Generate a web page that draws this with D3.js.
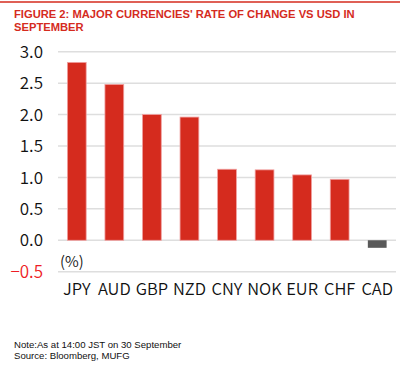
<!DOCTYPE html>
<html>
<head>
<meta charset="utf-8">
<script src="https://cdn.jsdelivr.net/npm/d3@7"></script>
<style>
  body { margin: 0; background: #fff; }
  svg { display: block; }
</style>
</head>
<body>
<div id="content"></div>
<script>
// Data
var currencies = ["JPY", "AUD", "GBP", "NZD", "CNY", "NOK", "EUR", "CHF", "CAD"];
var changes = [2.83, 2.48, 2.0, 1.96, 1.13, 1.12, 1.04, 0.97, -0.12];
var yTicks = [-0.5, 0, 0.5, 1.0, 1.5, 2.0, 2.5, 3.0];
var titleLines = ["FIGURE 2: MAJOR CURRENCIES' RATE OF CHANGE VS USD IN", "SEPTEMBER"];
var notes = ["Note:As at 14:00 JST on 30 September", "Source: Bloomberg, MUFG"];

var width = 406, height = 370;
var red = "#d52b1e";
var labelFont = "Noto Sans CJK JP, Noto Sans, sans-serif";

var svg = d3.select("#content").append("svg")
    .attr("width", width)
    .attr("height", height);

// top rule
svg.append("line")
    .attr("x1", 0).attr("x2", 400)
    .attr("y1", 2).attr("y2", 2)
    .attr("stroke", red)
    .attr("stroke-width", 1.5);

svg.append("g")
  .selectAll("text")
  .data(titleLines)
  .join("text")
    .attr("x", 14)
    .attr("y", (d, i) => 18 + i * 12.5)
    .attr("fill", red)
    .attr("font-family", "Liberation Sans, Arial, sans-serif")
    .attr("font-weight", "bold")
    .attr("font-size", 11.2)
    .text(d => d);

// Scales
var x = d3.scaleBand()
    .domain(currencies)
    .range([58, 396])
    .paddingInner(0.5)
    .paddingOuter(0.25);

var y = d3.scaleLinear()
    .domain([-0.5, 3.0])
    .range([271.7, 51.7]);

// grid
svg.append("g")
  .selectAll("line")
  .data(yTicks)
  .join("line")
    .attr("x1", 58).attr("x2", 396)
    .attr("y1", d => y(d)).attr("y2", d => y(d))
    .attr("stroke", "#dedede")
    .attr("stroke-width", 1.5);

// y labels
svg.append("g")
  .selectAll("text")
  .data(yTicks)
  .join("text")
    .attr("x", 43)
    .attr("y", d => y(d))
    .attr("dy", "0.36em")
    .attr("text-anchor", "end")
    .attr("fill", d => d < 0 ? "#ee1c25" : "#111")
    .attr("font-family", labelFont)
    .attr("font-weight", 350)
    .attr("font-size", 17)
    .text(d => d3.format(".1f")(d));

// bars
svg.append("g")
  .selectAll("rect")
  .data(currencies)
  .join("rect")
    .attr("x", d => x(d))
    .attr("width", x.bandwidth())
    .attr("y", (d, i) => y(Math.max(0, changes[i])))
    .attr("height", (d, i) => Math.abs(y(changes[i]) - y(0)))
    .attr("fill", (d, i) => changes[i] < 0 ? "#595959" : red)
    .attr("stroke", (d, i) => changes[i] < 0 ? "none" : "#f0a0a0")
    .attr("stroke-width", 0.8);

// unit label
svg.append("text")
    .attr("x", 60)
    .attr("y", 267)
    .attr("fill", "#111")
    .attr("font-family", labelFont)
    .attr("font-weight", 350)
    .attr("font-size", 15)
    .text("(%)");

// x labels
svg.append("g")
  .selectAll("text")
  .data(currencies)
  .join("text")
    .attr("x", d => x(d) + x.bandwidth() / 2)
    .attr("y", 295)
    .attr("text-anchor", "middle")
    .attr("fill", "#111")
    .attr("font-family", labelFont)
    .attr("font-weight", 350)
    .attr("font-size", 16.5)
    .text(d => d);

// notes
svg.append("g")
  .selectAll("text")
  .data(notes)
  .join("text")
    .attr("x", 14)
    .attr("y", (d, i) => 348 + i * 11)
    .attr("fill", "#111")
    .attr("font-family", "Liberation Sans, Arial, sans-serif")
    .attr("font-size", 9.6)
    .text(d => d);
</script>
</body>
</html>
